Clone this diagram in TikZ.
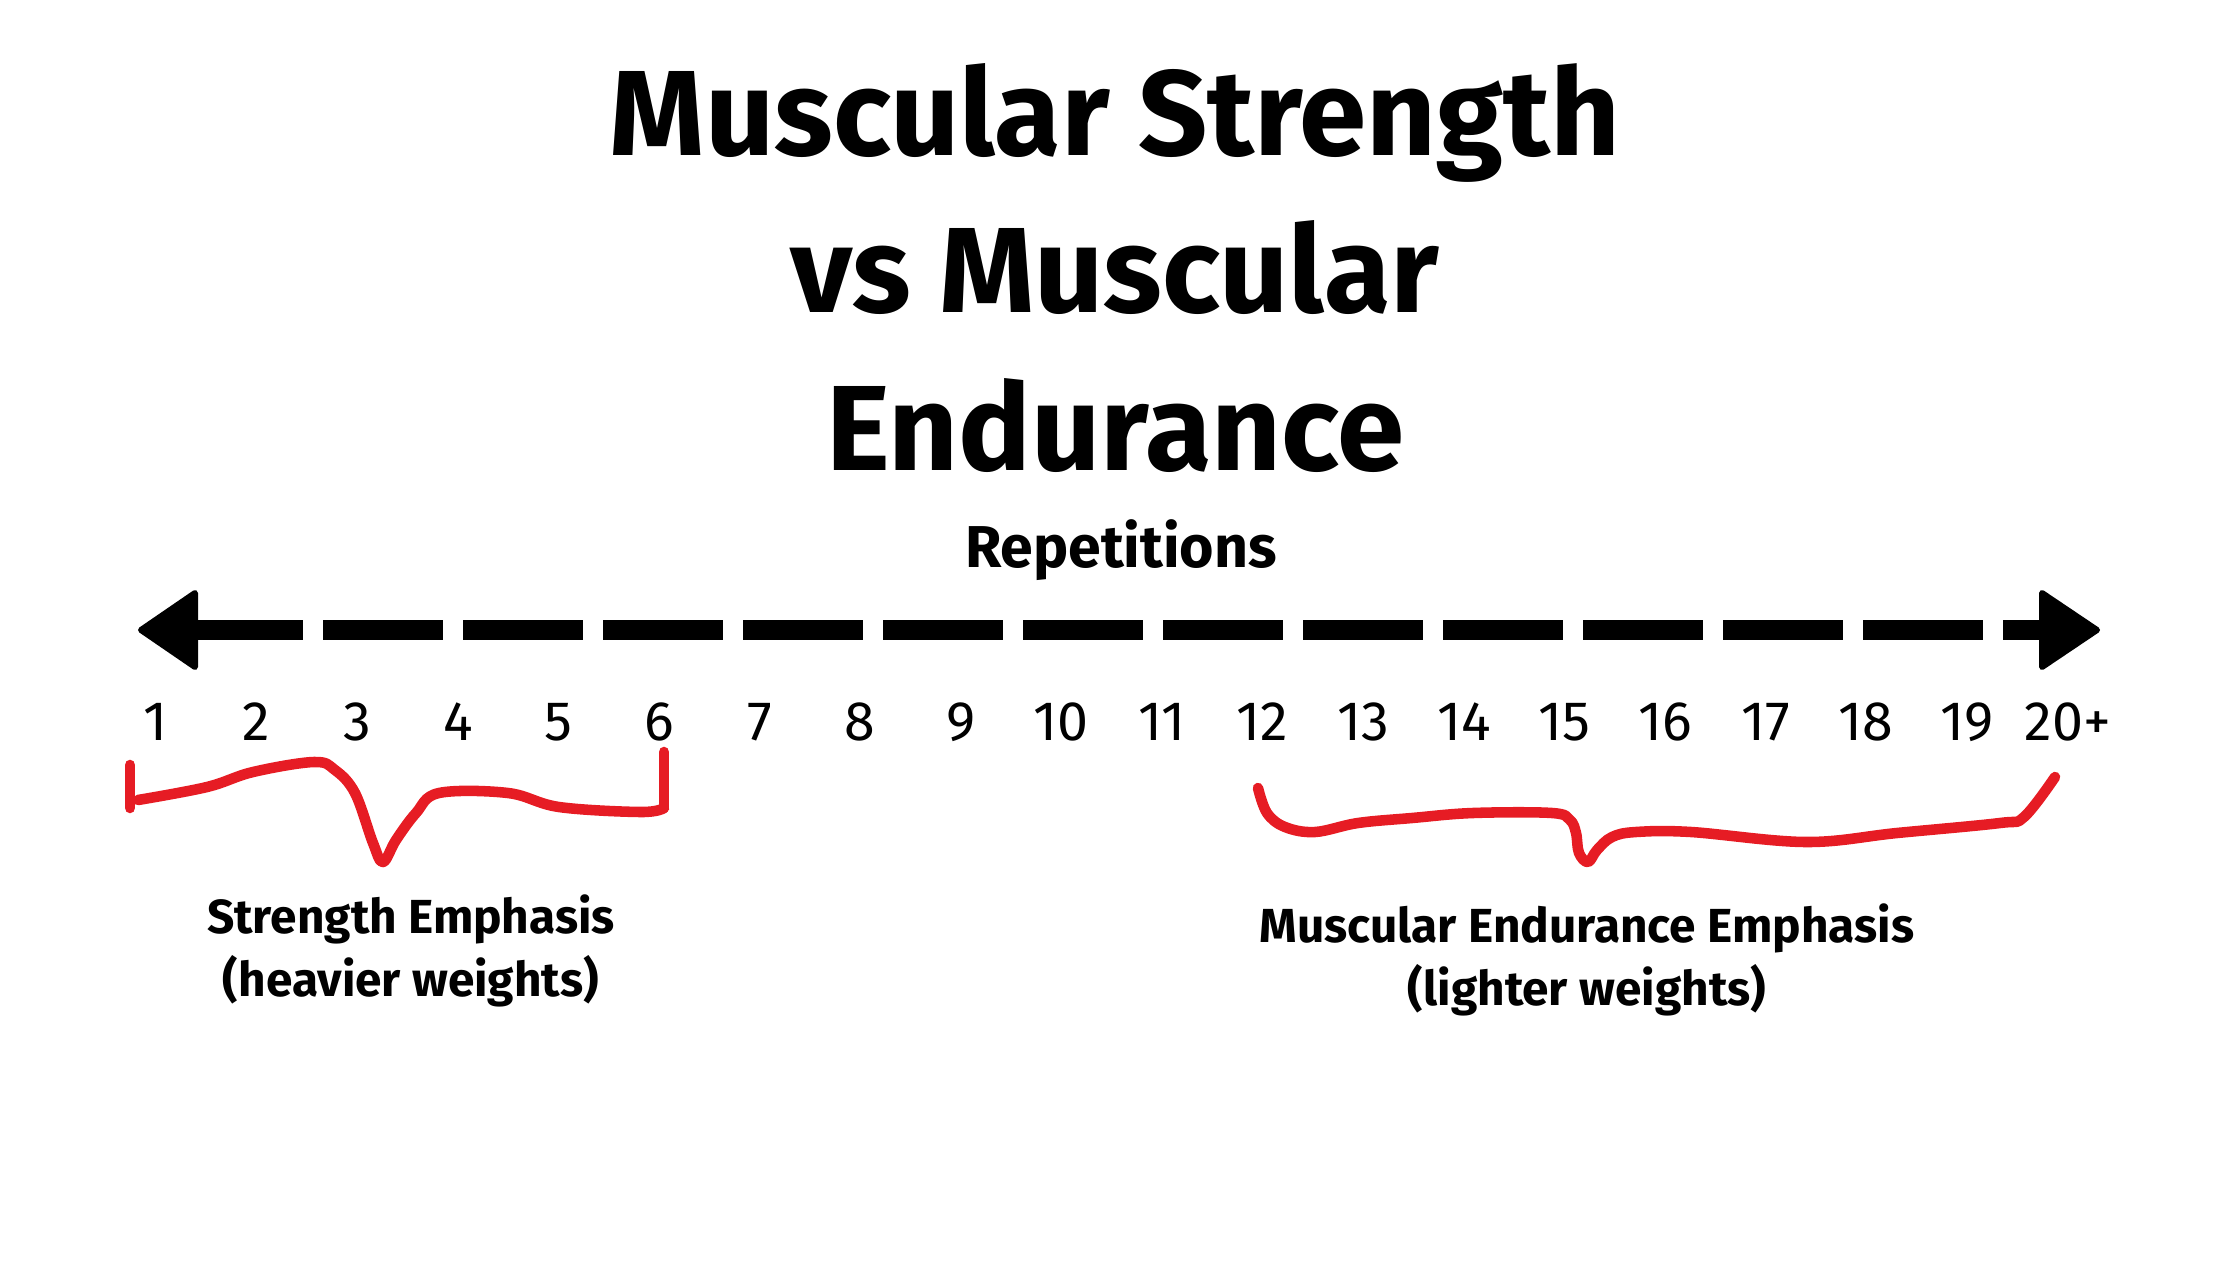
\documentclass[tikz,border=0pt]{standalone}
\usepackage{fontspec}
\setmainfont{Fira Sans}
\definecolor{penred}{RGB}{230,28,36}
\tikzset{
  titletext/.style={anchor=base,font=\fontsize{34.5}{40}\selectfont\bfseries},
  num/.style={anchor=base,font=\fontsize{15.8}{18}\selectfont},
  emph/.style={anchor=base,align=center,font=\fontsize{13.6}{17.9}\selectfont\bfseries},
  redbrace/.style={draw=penred,line width=3pt,line cap=round,line join=round},
  head/.style={fill=black,draw=black,line width=0.06cm,line join=round}
}
\begin{document}
\begin{tikzpicture}
\useasboundingbox (0,0) rectangle (22.4,12.6);
% title
\node(t1) at (11.15,11.05)[titletext] {Muscular Strength};
\node(t2) at (11.15,9.48)[titletext]  {vs Muscular};
\node(t3) at (11.15,7.90)[titletext]  {Endurance};
\node(reps) at (11.21,6.93)[anchor=base,font=\fontsize{16.8}{18}\selectfont\bfseries] {Repetitions};

% number line
\coordinate(lefttip) at (1.41,6.30);
\coordinate(leftback) at (1.98,6.30);
\coordinate(rightback) at (20.42,6.30);
\coordinate(righttip) at (20.97,6.30);
\draw[line width=0.2cm,dash pattern=on 1.2cm off 0.2cm,dash phase=0.15cm] (leftback) -- (rightback);
\filldraw[head] (lefttip) -- ++(0.54,0.37) -- ++(0,-0.74) -- cycle;
\filldraw[head] (righttip) -- ++(-0.55,0.37) -- ++(0,-0.74) -- cycle;

\foreach \i in {1,...,19}
  \node(n\i) at ({1.56+1.006*(\i-1)},5.20)[num] {\i};
\node(n20) at (20.68,5.20)[num] {20+};

% braces
\draw[redbrace] (1.30,4.95) -- (1.30,4.52);
\draw[redbrace] plot[smooth,tension=0.6] coordinates {(1.38,4.60) (2.07,4.73) (2.53,4.88)
  (3.14,4.98) (3.35,4.90) (3.55,4.67) (3.73,4.17) (3.83,3.98) (3.96,4.20) (4.16,4.47)
  (4.39,4.67) (5.08,4.67) (5.59,4.53) (6.41,4.48) (6.64,4.52)};
\draw[redbrace] (6.64,5.08) -- (6.64,4.52);
\draw[redbrace] plot[smooth,tension=0.6] coordinates {(12.58,4.72) (12.67,4.47) (12.85,4.33)
  (13.15,4.28) (13.58,4.37) (14.12,4.42) (14.73,4.47) (15.52,4.47) (15.70,4.40) (15.76,4.27)
  (15.79,4.07) (15.88,3.98) (15.97,4.10) (16.12,4.23) (16.36,4.28) (16.91,4.28) (18.06,4.18)
  (18.97,4.27) (20.00,4.37) (20.24,4.43) (20.55,4.83)};

\node(strength) at (4.11,2.64)[emph] {Strength Emphasis\\(heavier weights)};
\node(endurance) at (15.87,2.55)[emph] {Muscular Endurance Emphasis\\(lighter weights)};
\end{tikzpicture}
\end{document}
